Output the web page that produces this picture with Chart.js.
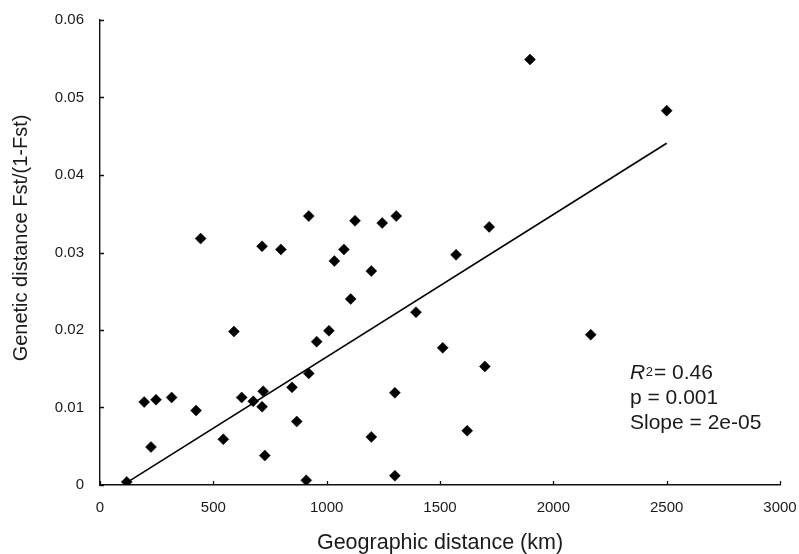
<!DOCTYPE html>
<html>
<head>
<meta charset="utf-8">
<script src="https://cdn.jsdelivr.net/npm/chart.js@4.4.0/dist/chart.umd.min.js"></script>
<style>
html,body{margin:0;padding:0;background:#fff;}
#wrap{width:799px;height:554px;position:relative;}
</style>
</head>
<body>
<div id="wrap"><canvas id="c" width="799" height="554"></canvas></div>
<script>
// Geographic distance (km) of each population pair
const geoDistance = [118, 195, 247, 225, 316, 424, 444, 544, 591, 625,
  676, 715, 720, 715, 727, 798, 847, 868, 910, 921,
  921, 956, 1010, 1034, 1076, 1106, 1125, 1197, 1197, 1245,
  1301, 1301, 1307, 1394, 1512, 1571, 1620, 1698, 1717, 1897,
  2165, 2500];
// Genetic distance Fst/(1-Fst) of each pair
const geneticDistance = [0.0004, 0.0107, 0.0110, 0.0049, 0.0113, 0.0096, 0.0318, 0.0059, 0.0198, 0.0113,
  0.0108, 0.0101, 0.0121, 0.0308, 0.0038, 0.0304, 0.0126, 0.0082, 0.0006, 0.0144,
  0.0347, 0.0185, 0.0199, 0.0289, 0.0304, 0.0240, 0.0341, 0.0276, 0.0062, 0.0338,
  0.0119, 0.0012, 0.0347, 0.0223, 0.0177, 0.0297, 0.0070, 0.0153, 0.0333, 0.0549,
  0.0194, 0.0483];
// Regression line end points
const trendX = [118, 2500];
const trendY = [0.0003, 0.0441];
// Axis ticks
const xTicks = [0, 500, 1000, 1500, 2000, 2500, 3000];
const xTickLabels = ['0', '500', '1000', '1500', '2000', '2500', '3000'];
const yTicks = [0, 0.01, 0.02, 0.03, 0.04, 0.05, 0.06];
const yTickLabels = ['0', '0.01', '0.02', '0.03', '0.04', '0.05', '0.06'];
// Titles and statistics text
const xTitle = 'Geographic distance (km)';
const yTitle = 'Genetic distance Fst/(1-Fst)';
const statR2 = '0.46';
const statP = 'p = 0.001';
const statSlope = 'Slope = 2e-05';

const FONT = "'Liberation Sans', Arial, Helvetica, sans-serif";
const INK = '#1a1a1a';

const points = geoDistance.map((x, i) => ({x: x, y: geneticDistance[i]}));
const trend = trendX.map((x, i) => ({x: x, y: trendY[i]}));

const innerTicks = {
  id: 'innerTicks',
  afterDraw(chart) {
    const ctx = chart.ctx;
    const {left, bottom} = chart.chartArea;
    const xs = chart.scales.x, ys = chart.scales.y;
    ctx.save();
    ctx.strokeStyle = '#111';
    ctx.lineWidth = 1.3;
    ctx.beginPath();
    xTicks.forEach(v => {
      const px = Math.round(xs.getPixelForValue(v)) + 0.5;
      ctx.moveTo(px, bottom); ctx.lineTo(px, bottom - 4);
    });
    yTicks.forEach(v => {
      const py = Math.round(ys.getPixelForValue(v)) + 0.5;
      ctx.moveTo(left, py); ctx.lineTo(left + 4, py);
    });
    ctx.stroke();
    ctx.restore();
  }
};

const textLayer = {
  id: 'textLayer',
  afterDraw(chart) {
    const ctx = chart.ctx;
    const x0 = chart.chartArea.left + 530;
    ctx.save();
    ctx.fillStyle = INK;
    // y-axis title
    ctx.save();
    ctx.translate(21, 238);
    ctx.rotate(-Math.PI / 2);
    ctx.textAlign = 'center';
    ctx.textBaseline = 'middle';
    ctx.font = '20px ' + FONT;
    ctx.fillText(yTitle, 0, 0);
    ctx.restore();
    // statistics
    ctx.textBaseline = 'alphabetic';
    ctx.textAlign = 'left';
    ctx.font = 'italic 21px ' + FONT;
    ctx.fillText('R', x0, 379);
    let w = ctx.measureText('R').width;
    ctx.font = '13px ' + FONT;
    ctx.fillText('2', x0 + w + 0.5, 376);
    w += ctx.measureText('2').width + 1.5;
    ctx.font = '21px ' + FONT;
    ctx.fillText('= ' + statR2, x0 + w, 379);
    ctx.fillText(statP, x0, 404);
    ctx.fillText(statSlope, x0, 429);
    ctx.restore();
  }
};

new Chart(document.getElementById('c'), {
  type: 'scatter',
  data: {
    datasets: [
      {
        label: 'Pairs',
        data: points,
        pointStyle: 'rectRot',
        pointRadius: 5.5,
        pointBackgroundColor: '#000',
        pointBorderColor: '#000',
        pointBorderWidth: 0.5,
        showLine: false
      },
      {
        label: 'Trend',
        type: 'line',
        data: trend,
        borderColor: '#000',
        borderWidth: 1.6,
        pointRadius: 0,
        fill: false,
        tension: 0
      }
    ]
  },
  options: {
    responsive: false,
    animation: false,
    devicePixelRatio: 1,
    layout: {padding: {top: 20, right: 19, bottom: 0, left: 0}},
    plugins: {legend: {display: false}, tooltip: {enabled: false}},
    scales: {
      x: {
        type: 'linear',
        min: 0, max: 3000,
        afterBuildTicks: s => { s.ticks = xTicks.map(v => ({value: v})); },
        afterFit: s => { s.height = 69; s.paddingLeft = 0; s.paddingRight = 0; },
        grid: {display: false, drawTicks: false},
        border: {display: true, color: '#111', width: 1.4},
        ticks: {
          padding: 14,
          color: INK,
          font: {family: FONT, size: 15},
          maxRotation: 0,
          callback: (v, i) => xTickLabels[i]
        },
        title: {
          display: true,
          text: xTitle,
          color: INK,
          font: {family: FONT, size: 21.5, lineHeight: 1},
          padding: {top: 0, bottom: 0}
        }
      },
      y: {
        type: 'linear',
        min: 0, max: 0.06,
        afterBuildTicks: s => { s.ticks = yTicks.map(v => ({value: v})); },
        afterFit: s => { s.width = 100; s.paddingTop = 0; s.paddingBottom = 0; },
        grid: {display: false, drawTicks: false},
        border: {display: true, color: '#111', width: 1.4},
        ticks: {
          padding: 16,
          color: INK,
          font: {family: FONT, size: 15},
          callback: (v, i) => yTickLabels[i]
        },
        title: {display: false, text: yTitle}
      }
    }
  },
  plugins: [innerTicks, textLayer]
});
</script>
</body>
</html>
